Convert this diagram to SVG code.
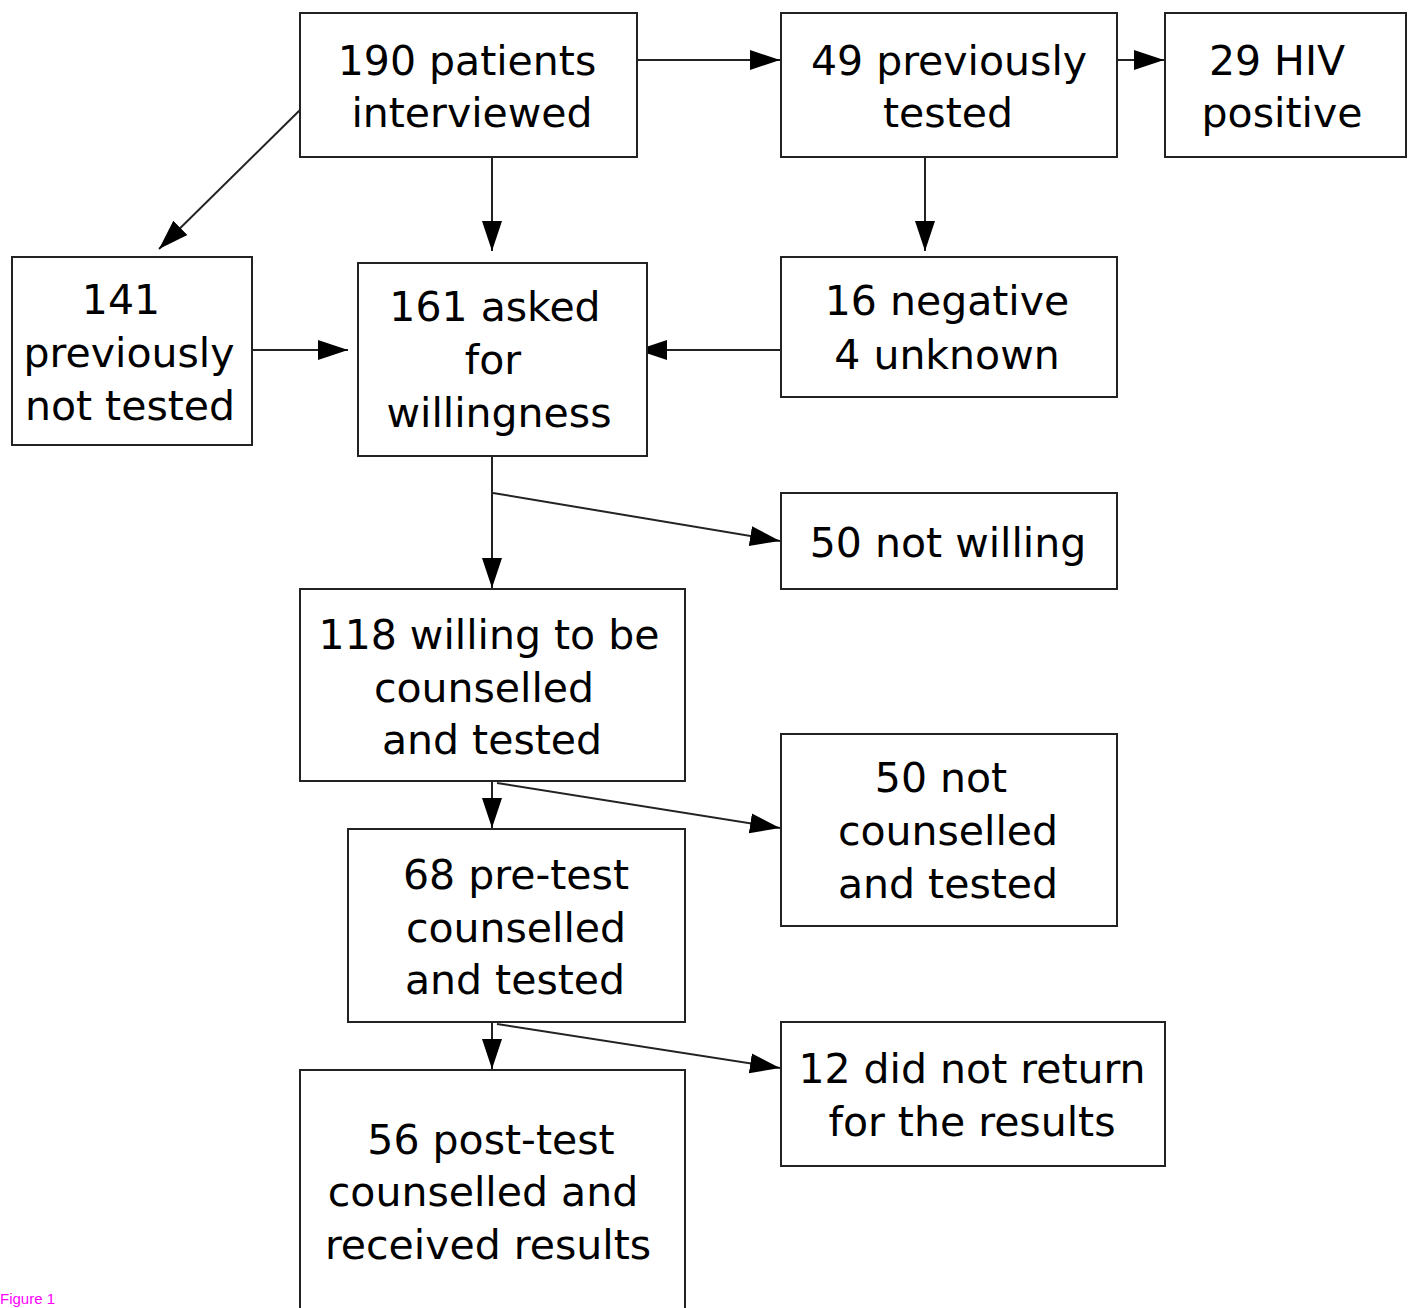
<svg xmlns="http://www.w3.org/2000/svg" width="1416" height="1308" viewBox="0 0 1416 1308">
<style>
.box{fill:#fff;stroke:#222;stroke-width:2}
.t{font-family:"DejaVu Sans",sans-serif;font-size:41px;fill:#000;text-anchor:middle}
.c{fill:none;stroke:#222;stroke-width:2}
.cap{font-family:"Liberation Sans",Arial,sans-serif;font-size:15px;fill:#ff00ff}
</style>
<defs>
<marker id="ah" markerUnits="userSpaceOnUse" markerWidth="32" markerHeight="24" refX="30" refY="12" orient="auto">
<path d="M0,2 L30,12 L0,22 Z" fill="#000"/>
</marker>
</defs>
<rect width="1416" height="1308" fill="#fff"/>
<g id="connectors">
<line class="c" x1="637" y1="60" x2="780" y2="60" marker-end="url(#ah)"/>
<line class="c" x1="1117" y1="60" x2="1164" y2="60" marker-end="url(#ah)"/>
<line class="c" x1="492" y1="157" x2="492" y2="251" marker-end="url(#ah)"/>
<line class="c" x1="300" y1="110" x2="159" y2="249" marker-end="url(#ah)"/>
<line class="c" x1="925" y1="157" x2="925" y2="251" marker-end="url(#ah)"/>
<line class="c" x1="252" y1="350" x2="348" y2="350" marker-end="url(#ah)"/>
<line class="c" x1="781" y1="350" x2="637" y2="350" marker-end="url(#ah)"/>
<line class="c" x1="492" y1="456" x2="492" y2="588" marker-end="url(#ah)"/>
<line class="c" x1="493" y1="493" x2="780" y2="541" marker-end="url(#ah)"/>
<line class="c" x1="492" y1="781" x2="492" y2="828" marker-end="url(#ah)"/>
<line class="c" x1="497" y1="783" x2="780" y2="828" marker-end="url(#ah)"/>
<line class="c" x1="492" y1="1022" x2="492" y2="1069" marker-end="url(#ah)"/>
<line class="c" x1="497" y1="1024" x2="780" y2="1068" marker-end="url(#ah)"/>
</g>
<g id="n190">
<rect class="box" x="300" y="13" width="337" height="144"/>
<text class="t" x="467" y="75">190 patients</text>
<text class="t" x="472" y="127">interviewed</text>
</g>
<g id="n49">
<rect class="box" x="781" y="13" width="336" height="144"/>
<text class="t" x="949" y="75">49 previously</text>
<text class="t" x="948" y="127">tested</text>
</g>
<g id="n29">
<rect class="box" x="1165" y="13" width="241" height="144"/>
<text class="t" x="1277" y="75">29 HIV</text>
<text class="t" x="1282" y="127">positive</text>
</g>
<g id="n141">
<rect class="box" x="12" y="257" width="240" height="188"/>
<text class="t" x="121" y="314">141</text>
<text class="t" x="129" y="367">previously</text>
<text class="t" x="130" y="420">not tested</text>
</g>
<g id="n161">
<rect class="box" x="358" y="263" width="289" height="193"/>
<text class="t" x="495" y="321">161 asked</text>
<text class="t" x="493" y="374">for</text>
<text class="t" x="499" y="427">willingness</text>
</g>
<g id="n16">
<rect class="box" x="781" y="257" width="336" height="140"/>
<text class="t" x="947" y="315">16 negative</text>
<text class="t" x="947" y="369">4 unknown</text>
</g>
<g id="n50a">
<rect class="box" x="781" y="493" width="336" height="96"/>
<text class="t" x="948" y="557">50 not willing</text>
</g>
<g id="n118">
<rect class="box" x="300" y="589" width="385" height="192"/>
<text class="t" x="489" y="649">118 willing to be</text>
<text class="t" x="484" y="702">counselled</text>
<text class="t" x="492" y="754">and tested</text>
</g>
<g id="n50b">
<rect class="box" x="781" y="734" width="336" height="192"/>
<text class="t" x="941" y="792">50 not</text>
<text class="t" x="948" y="845">counselled</text>
<text class="t" x="948" y="898">and tested</text>
</g>
<g id="n68">
<rect class="box" x="348" y="829" width="337" height="193"/>
<text class="t" x="516" y="889">68 pre-test</text>
<text class="t" x="516" y="942">counselled</text>
<text class="t" x="515" y="994">and tested</text>
</g>
<g id="n12">
<rect class="box" x="781" y="1022" width="384" height="144"/>
<text class="t" x="972" y="1083">12 did not return</text>
<text class="t" x="972" y="1136">for the results</text>
</g>
<g id="n56">
<rect class="box" x="300" y="1070" width="385" height="250"/>
<text class="t" x="491" y="1154">56 post-test</text>
<text class="t" x="483" y="1206">counselled and</text>
<text class="t" x="488" y="1259">received results</text>
</g>
<text class="cap" x="0" y="1304">Figure 1</text>
</svg>
